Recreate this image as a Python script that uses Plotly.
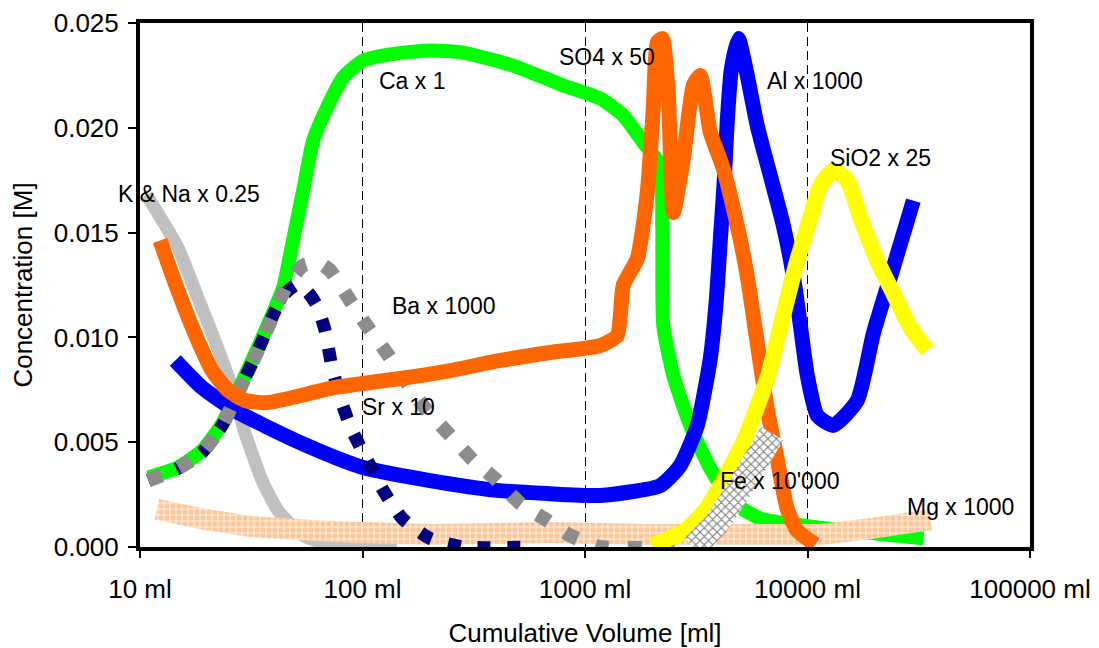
import numpy as np
import plotly.graph_objects as go

# ---------------- data ----------------
# K & Na x 0.25
kna_x = [10.7, 14.8, 18.2, 21.7, 25.9, 29.7, 35.4, 41.7, 54.1, 71.4, 100, 143]
kna_y = [0.0168, 0.01429, 0.01190, 0.00985, 0.00761, 0.00542, 0.00317, 0.00174, 0.00055, 0.0001, 0.0, 0.0]

# Ca x 1
ca_x = [10.9, 14.8, 19.0, 23.4, 27.6, 33.9, 40.5, 44.0, 48.7, 54.1, 60.0, 69.3, 81.8, 100.7, 143, 201, 283,
        475, 798, 1170, 1485, 1828, 2178, 2225, 2248, 2494, 2972, 3656, 4636, 6138, 8109, 11070, 33200]
ca_y = [0.00332, 0.00379, 0.00460, 0.00589, 0.00747, 0.00952, 0.01143, 0.01238, 0.01462, 0.01701, 0.01939,
        0.02097, 0.02240, 0.02321, 0.02355, 0.02369, 0.02359, 0.02297, 0.02202, 0.02140, 0.02059, 0.01930,
        0.01820, 0.01534, 0.01057, 0.00818, 0.00580, 0.00375, 0.00212, 0.00136, 0.00112, 0.00093, 0.00041]

# SO4 x 50
so4_x = [12.3, 14.8, 18.2, 21.1, 24.9, 29.7, 37.6, 75.4, 147.6, 248, 416, 698, 1170, 1396, 1485, 1718, 1905,
         2027, 2113, 2225, 2366, 2494, 2767, 3067, 3298, 3657, 4183, 4830, 5356, 5939, 6586, 7303, 8098,
         8980, 10820]
so4_y = [0.01462, 0.01224, 0.00985, 0.00842, 0.00747, 0.00699, 0.00689, 0.00761, 0.00804, 0.00842, 0.00890,
         0.00928, 0.00961, 0.01009, 0.01248, 0.01376, 0.01691, 0.02092, 0.02407, 0.02426, 0.02168, 0.01596,
         0.01854, 0.02202, 0.02249, 0.01978, 0.01806, 0.01534, 0.01295, 0.00976, 0.00661, 0.00422, 0.00184,
         0.00079, 0.00012]

# Al x 1000
al_x = [14.4, 19.0, 26.7, 37.7, 53.4, 75.4, 100.7, 201, 403, 676, 1170, 2178, 2680, 3199, 3656, 3890, 4055,
        4225, 4360, 4540, 4887, 5358, 5940, 6805, 7785, 8630, 9290, 9980, 11070, 13060, 16740, 19770, 24300,
        29900]
al_y = [0.00890, 0.00761, 0.00651, 0.00570, 0.00494, 0.00427, 0.00379, 0.00317, 0.00270, 0.00255, 0.00246,
        0.00293, 0.00389, 0.00580, 0.00899, 0.01176, 0.01462, 0.01749, 0.02035, 0.02273, 0.02426, 0.02250,
        0.02011, 0.01772, 0.01534, 0.01295, 0.01057, 0.00818, 0.00627, 0.00580, 0.00699, 0.01019, 0.01333,
        0.01653]

# SiO2 x 25
si_x = [2004, 2818, 3467, 4053, 5140, 6590, 7780, 8990, 10300, 11430, 13070, 15100, 17270, 20590, 24320,
        28990, 34570]
si_y = [0.00005, 0.00079, 0.00174, 0.00293, 0.00499, 0.00804, 0.01105, 0.01367, 0.01572, 0.01725, 0.01796,
        0.01749, 0.01572, 0.01367, 0.01209, 0.01047, 0.00938]

# Sr x 10
sr_x = [10.9, 14.8, 19.0, 23.4, 27.6, 33.9, 40.5, 44.9, 50.8, 56.9, 62.5, 67.9, 73.0, 80.9, 89.8, 105, 124,
        151, 201, 283, 567]
sr_y = [0.00317, 0.00375, 0.00451, 0.00580, 0.00737, 0.00938, 0.01128, 0.01210, 0.01252, 0.01215, 0.01150,
        0.01033, 0.00856, 0.00685, 0.00556, 0.00413, 0.00270, 0.00136, 0.00041, 0.0, 0.0]

# Ba x 1000
ba_x = [10.9, 14.8, 19.0, 23.4, 27.6, 33.9, 40.5, 46.2, 54.1, 63.1, 71.5, 87.9, 106, 129, 159, 195, 248, 314,
        403, 511, 677, 858, 1170, 2970]
ba_y = [0.00317, 0.00375, 0.00451, 0.00580, 0.00737, 0.00938, 0.01128, 0.01257, 0.01343, 0.01357, 0.01319,
        0.01176, 0.01047, 0.00923, 0.00780, 0.00651, 0.00532, 0.00413, 0.00317, 0.00208, 0.00126, 0.00055,
        0.0, 0.0]

# Fe x 10'000
fe_x = [3070, 3846, 4731, 5819, 6948]
fe_y = [0.0, 0.00103, 0.00246, 0.00403, 0.00542]

# Mg x 1000
mg_x = [11.9, 18.6, 31.3, 71.5, 201, 698, 1962, 5531, 11440, 19140, 35640]
mg_y = [0.00180, 0.00136, 0.00098, 0.00074, 0.00060, 0.00069, 0.00060, 0.00060, 0.00060, 0.00088, 0.00131]

x_tickvals = [10, 100, 1000, 10000, 100000]
x_ticktext = ["10 ml", "100 ml", "1000 ml", "10000 ml", "100000 ml"]
y_tickvals = [0.0, 0.005, 0.010, 0.015, 0.020, 0.025]

# text, x (ml), y (M), horizontal anchor
labels = [
    ("K & Na x 0.25", 16.6, 0.01682, "center"),
    ("Ca x 1", 116.4, 0.02221, "left"),
    ("SO4 x 50", 750, 0.02340, "left"),
    ("Al x 1000", 6457, 0.02221, "left"),
    ("SiO2 x 25", 12420, 0.01858, "left"),
    ("Ba x 1000", 133, 0.01152, "left"),
    ("Sr x 10", 97.5, 0.00666, "left"),
    ("Fe x 10'000", 3972, 0.00317, "left"),
    ("Mg x 1000", 27540, 0.00193, "left"),
]

# ---------------- layout geometry ----------------
# the page body has an 8px margin, so the figure is made 8px smaller
W, H = 1091, 640
ML, MR, MT, MB = 132, 69, 15, 101
XR = [1, 5]
YR = [0, 0.025]
px_per_dec = (W - ML - MR) / (XR[1] - XR[0])
px_per_y = (H - MT - MB) / (YR[1] - YR[0])

FONT = "Liberation Sans, Arial, sans-serif"


def band(xs, ys, half_px):
    """Polygon of constant pixel thickness around a centre line."""
    u = np.log10(np.asarray(xs, float)) * px_per_dec
    v = np.asarray(ys, float) * px_per_y
    du = np.gradient(u)
    dv = np.gradient(v)
    n = np.hypot(du, dv)
    nu, nv = -dv / n, du / n
    u1, v1 = u + nu * half_px, v + nv * half_px
    u2, v2 = u - nu * half_px, v - nv * half_px
    uu = np.concatenate([u1, u2[::-1], u1[:1]])
    vv = np.concatenate([v1, v2[::-1], v1[:1]])
    return 10 ** (uu / px_per_dec), vv / px_per_y


fig = go.Figure()


def line(x, y, color, width, dash="solid", smooth=0.55):
    fig.add_trace(go.Scatter(
        x=x, y=y, mode="lines",
        line=dict(color=color, width=width, dash=dash, shape="spline", smoothing=smooth),
        hoverinfo="skip", showlegend=False))


line(kna_x, kna_y, "#C0C0C0", 13)
line(ca_x, ca_y, "#00FF00", 14)

bx, by = band(mg_x, mg_y, 10.5)
fig.add_trace(go.Scatter(
    x=bx, y=by, mode="lines", fill="toself", line=dict(width=0, color="rgba(0,0,0,0)"),
    fillcolor="#FFE0C4",
    fillpattern=dict(shape=".", fgcolor="#F9A868", bgcolor="#FFE4CC", size=6, solidity=0.55),
    hoverinfo="skip", showlegend=False))

line(al_x, al_y, "#0000FF", 15)
line(sr_x, sr_y, "#000080", 13, dash="13px,17px")
line(ba_x, ba_y, "#8C8C8C", 14, dash="14px,19px")
line(so4_x, so4_y, "#FF6600", 15)
line(si_x, si_y, "#FFFF00", 16)

fx, fy = band(fe_x, fe_y, 13)
fig.add_trace(go.Scatter(
    x=fx, y=fy, mode="lines", fill="toself", line=dict(width=0, color="rgba(0,0,0,0)"),
    fillcolor="white",
    fillpattern=dict(shape="x", fgcolor="#000000", bgcolor="#FFFFFF", size=6, solidity=0.35),
    hoverinfo="skip", showlegend=False))

for txt, lx, ly, anc in labels:
    fig.add_annotation(x=np.log10(lx), y=ly, text=txt, showarrow=False,
                       xanchor=anc, yanchor="middle",
                       font=dict(family=FONT, size=23, color="black"))

fig.update_layout(
    width=W, height=H,
    margin=dict(l=ML, r=MR, t=MT, b=MB, autoexpand=False),
    paper_bgcolor="white", plot_bgcolor="white",
    showlegend=False,
    font=dict(family=FONT, size=26, color="black"),
    xaxis=dict(
        type="log", range=XR, automargin=False,
        tickvals=x_tickvals, ticktext=x_ticktext,
        ticks="outside", ticklen=7, tickwidth=1.5, tickcolor="black",
        ticklabelstandoff=9,
        showline=True, linewidth=4, linecolor="black", mirror=True,
        showgrid=True, gridcolor="black", gridwidth=1, griddash="9px,5px",
        zeroline=False,
        tickfont=dict(family=FONT, size=26),
        title=dict(text="Cumulative Volume [ml]", font=dict(family=FONT, size=26), standoff=22),
    ),
    yaxis=dict(
        range=YR, tickvals=y_tickvals, tickformat=".3f", automargin=False,
        ticks="outside", ticklen=8, tickwidth=1.5, tickcolor="black",
        ticklabelstandoff=4,
        showline=True, linewidth=4, linecolor="black", mirror=True,
        showgrid=False, zeroline=False,
        tickfont=dict(family=FONT, size=26),
        title=dict(text="Concentration [M]", font=dict(family=FONT, size=26), standoff=15),
    ),
)

fig.write_html("out.html")
